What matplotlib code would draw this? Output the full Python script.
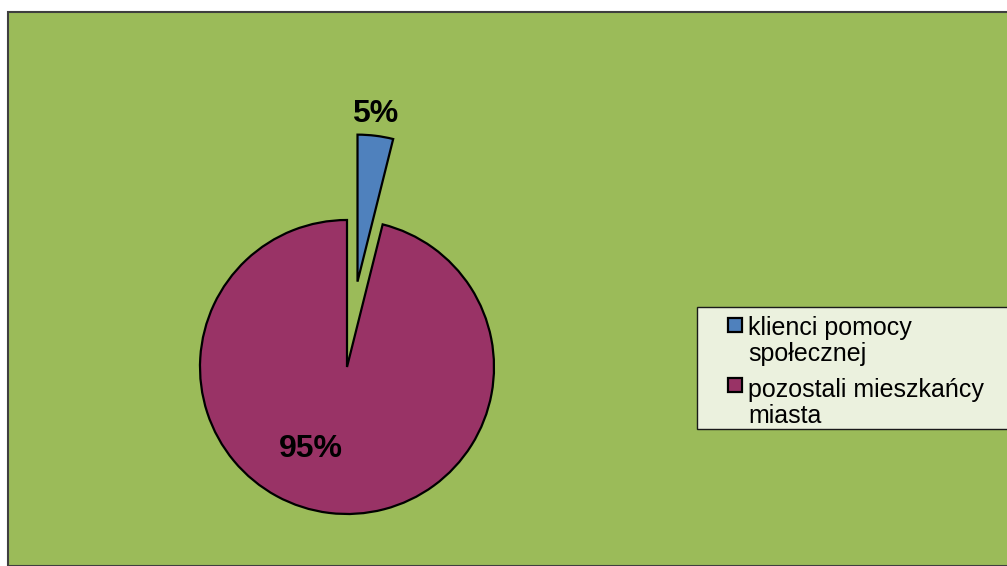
import matplotlib.pyplot as plt
from matplotlib.patches import Rectangle

# data (slice sizes as drawn, labels as printed)
categories = ['klienci pomocy\nspołecznej', 'pozostali mieszkańcy\nmiasta']
shares = [3.9, 96.1]
pct_labels = ['5%', '95%']
colors = ['#4F81BD', '#993366']

plt.rcParams['font.family'] = ['Liberation Sans', 'DejaVu Sans']

W, H = 1007, 566
fig = plt.figure(figsize=(W / 100, H / 100), dpi=100, facecolor='white')


def px(x, y):
    # pixel position (from top-left) -> figure fraction
    return x / W, 1 - y / H


# green chart area with dark frame
fig.patches.append(Rectangle(px(8, H), 1, 1 - 12 / H, transform=fig.transFigure,
                             facecolor='#9BBB59', edgecolor='#3F3F3F', linewidth=1.5,
                             zorder=-2))

# axes spanning the figure, 1 data unit = pie radius in pixels
R = 147.0
cx, cy = 347, 367
ax = fig.add_axes([0, 0, 1, 1])
ax.patch.set_alpha(0)

wedges, _ = ax.pie(shares, colors=colors, startangle=90, counterclock=False,
                   explode=[0.585, 0], radius=1,
                   wedgeprops=dict(edgecolor='black', linewidth=1.6))

ax.set_aspect('auto')
ax.set_xlim(-cx / R, (W - cx) / R)
ax.set_ylim(-(H - cy) / R, cy / R)
ax.axis('off')

# percentage labels (placed like in the original)
label_pos = [(0.19, 1.72), (-0.245, -0.56)]
for (x, y), txt in zip(label_pos, pct_labels):
    ax.text(x, y, txt, ha='center', va='center', fontsize=23, fontweight='bold',
            color='black')

# legend box, drawn by hand to match the original layout
fig.patches.append(Rectangle(px(697, 429), 320 / W, 122 / H, transform=fig.transFigure,
                             facecolor='#EBF1DE', edgecolor='#1A1A1A', linewidth=1.0,
                             zorder=1))
for i, (name, col) in enumerate(zip(categories, colors)):
    top = 318 + 59.5 * i
    fig.patches.append(Rectangle(px(728, top + 14), 14 / W, 14 / H,
                                 transform=fig.transFigure, facecolor=col,
                                 edgecolor='black', linewidth=1.6, zorder=2))
    # baseline of the last line of each entry
    fig.text(*px(748, 361 + 62 * i), name, ha='left', va='baseline', fontsize=18,
             linespacing=1.1, color='black', zorder=3)

fig.savefig('out.png', dpi=100, facecolor='white')
